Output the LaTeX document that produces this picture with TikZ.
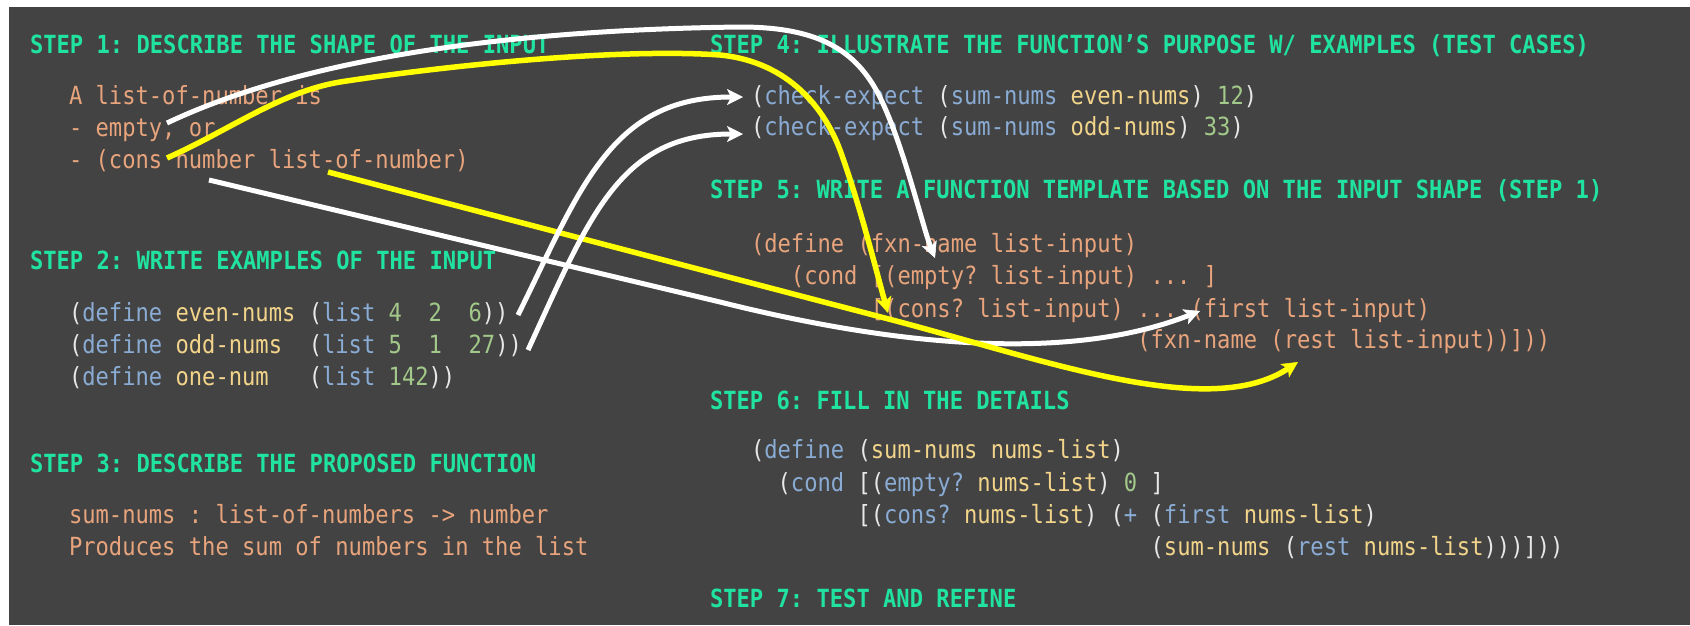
\documentclass[tikz,border=0pt]{standalone}
\usepackage{fontspec}
\usetikzlibrary{arrows.meta}
\newfontfamily\codefont[FakeStretch=0.885]{DejaVu Sans Mono}
\frenchspacing
\definecolor{panel}{RGB}{67,67,67}
\definecolor{stepgreen}{RGB}{33,227,160}
\definecolor{prose}{RGB}{232,164,124}
\definecolor{kwblue}{RGB}{138,172,212}
\definecolor{idyellow}{RGB}{242,212,138}
\definecolor{numgreen}{RGB}{162,201,138}
\definecolor{paren}{RGB}{232,232,232}
\definecolor{hiyellow}{RGB}{255,255,0}
\newcommand\kb[1]{\textcolor{kwblue}{#1}}
\newcommand\ky[1]{\textcolor{idyellow}{#1}}
\newcommand\kg[1]{\textcolor{numgreen}{#1}}
\tikzset{
  base/.style={inner sep=0pt, outer sep=0pt, anchor=base west},
  head/.style={base, text=stepgreen, font=\codefont\bfseries\fontsize{25}{30}\selectfont\frenchspacing},
  txt/.style={base, text=prose, font=\codefont\fontsize{25}{30}\selectfont\frenchspacing},
  code/.style={base, text=paren, font=\codefont\fontsize{25}{30}\selectfont\frenchspacing},
  tip/.style={-{Stealth[length=16pt,width=16pt,inset=4pt,line width=0.5pt]}},
  warrow/.style={draw=white, line width=5pt, tip},
  yarrow/.style={draw=hiyellow, line width=5.5pt, tip},
}
\begin{document}
\begin{tikzpicture}[x=1pt,y=-1pt]
\useasboundingbox (0,0) rectangle (1690,625);
\fill[white] (0,0) rectangle (1690,625);
\fill[panel] (9,7) rectangle (1690,625);

% left column
\node[head] (s1) at (30,53) {STEP 1: DESCRIBE THE SHAPE OF THE INPUT};
\node[txt] (d1) at (69,104) {A list-of-number is};
\node[txt] (d2) at (69,136) {- empty, or};
\node[txt] (d3) at (69,168) {- (cons number list-of-number)};

\node[head] (s2) at (30,269) {STEP 2: WRITE EXAMPLES OF THE INPUT};
\node[code] (e1) at (69,321) {(\kb{define} \ky{even-nums} (\kb{list} \kg{4}~~\kg{2}~~\kg{6}))};
\node[code] (e2) at (69,353) {(\kb{define} \ky{odd-nums}~~(\kb{list} \kg{5}~~\kg{1}~~\kg{27}))};
\node[code] (e3) at (69,385) {(\kb{define} \ky{one-num}~~~(\kb{list} \kg{142}))};

\node[head] (s3) at (30,472) {STEP 3: DESCRIBE THE PROPOSED FUNCTION};
\node[txt] (p1) at (69,523) {sum-nums : list-of-numbers -> number};
\node[txt] (p2) at (69,555) {Produces the sum of numbers in the list};

% right column
\node[head] (s4) at (710,53) {STEP 4: ILLUSTRATE THE FUNCTION’S PURPOSE W/ EXAMPLES (TEST CASES)};
\node[code] (t1) at (751,104) {(\kb{check-expect} (\kb{sum-nums} \ky{even-nums}) \kg{12})};
\node[code] (t2) at (751,135) {(\kb{check-expect} (\kb{sum-nums} \ky{odd-nums}) \kg{33})};

\node[head] (s5) at (710,198) {STEP 5: WRITE A FUNCTION TEMPLATE BASED ON THE INPUT SHAPE (STEP 1)};
\node[txt] (f1) at (751,252) {(define (fxn-name list-input)};
\node[txt] (f2) at (751,284) {~~~(cond [(empty? list-input) ... ]};
\node[txt] (f3) at (751,317) {~~~~~~~~~[(cons? list-input) ... (first list-input)};
\node[txt] (f4) at (751,348) {~~~~~~~~~~~~~~~~~~~~~~~~~~~~~(fxn-name (rest list-input))]))};

\node[head] (s6) at (710,409) {STEP 6: FILL IN THE DETAILS};
\node[code] (g1) at (751,458) {(\kb{define} (\ky{sum-nums nums-list})};
\node[code] (g2) at (751,491) {~~(\kb{cond} [(\kb{empty?} \ky{nums-list}) \kg{0} ]};
\node[code] (g3) at (751,523) {~~~~~~~~[(\kb{cons?} \ky{nums-list}) (\kb{+} (\kb{first} \ky{nums-list})};
\node[code] (g4) at (751,555) {~~~~~~~~~~~~~~~~~~~~~~~~~~~~~~(\ky{sum-nums} (\kb{rest} \ky{nums-list})))]))};

\node[head] (s7) at (710,607) {STEP 7: TEST AND REFINE};

% connector end points
\coordinate (wa0) at (167,123);
\coordinate (wa1) at (935,258);
\coordinate (ya0) at (167,158);
\coordinate (ya1) at (888,313);
\coordinate (wb0) at (209,180);
\coordinate (wb1) at (1200,311);
\coordinate (yb0) at (328,172);
\coordinate (yb1) at (1298,362);
\coordinate (wc0) at (518,315);
\coordinate (wc1) at (743,97);
\coordinate (wd0) at (528,350);
\coordinate (wd1) at (743,134);

% connectors
\draw[warrow] (wb0) -- (720,302) .. controls (920,352) and (1080,358) .. (wb1);
\draw[yarrow] (yb0) -- (900,322) .. controls (1050,362) and (1210,420) .. (yb1);
\draw[warrow] (wc0) .. controls (580,190) and (610,97) .. (wc1);
\draw[warrow] (wd0) .. controls (590,215) and (620,134) .. (wd1);
\draw[warrow] (wa0) .. controls (300,60) and (500,30) .. (740,27)
  .. controls (810,27) and (850,45) .. (875,88)
  .. controls (900,131) and (922,225) .. (wa1);
\draw[yarrow] (ya0) .. controls (230,130) and (280,92) .. (340,82)
  .. controls (450,65) and (620,48) .. (720,55)
  .. controls (790,62) and (825,110) .. (840,150)
  .. controls (860,205) and (876,270) .. (ya1);
\end{tikzpicture}
\end{document}
